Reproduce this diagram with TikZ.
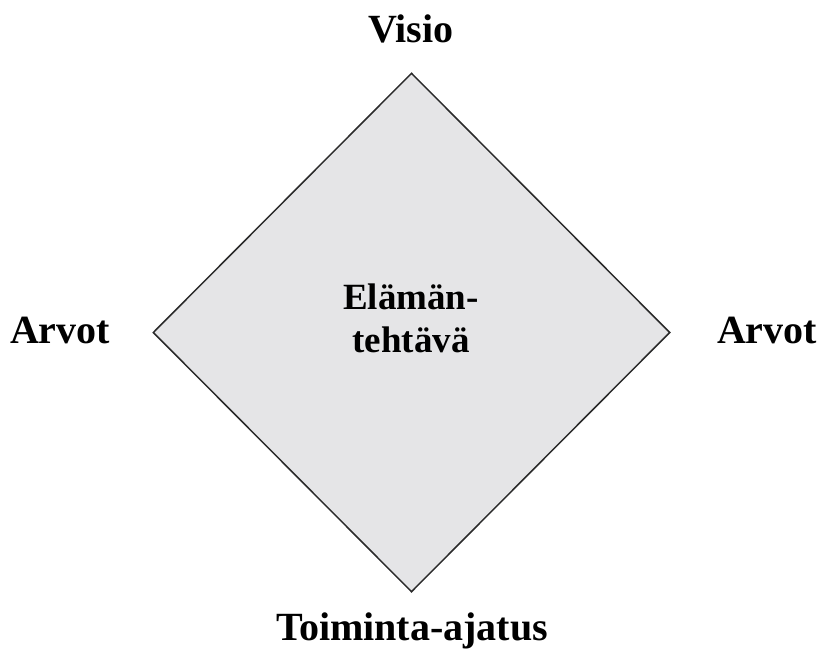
\documentclass[tikz,border=0pt]{standalone}
\usepackage{fontspec}
\setmainfont{Liberation Serif}
\usepackage{tikz}
\usetikzlibrary{shapes.geometric}
\usepackage{xcolor}
\definecolor{g1}{HTML}{E5E5E7}
\definecolor{k1}{HTML}{2A2A2A}
\tikzstyle{label}=[font=\fontsize{40}{43}\selectfont\bfseries,inner sep=0,anchor=base]
\tikzstyle{inner label}=[label,font=\fontsize{37}{43}\selectfont\bfseries]
\tikzstyle{kulmio}=[diamond,draw=k1,fill=g1,line width=1.5pt,inner sep=0,
  minimum width=517pt,minimum height=519pt]

\begin{document}
\begin{tikzpicture}[x=1pt,y=-1pt]
  \useasboundingbox (0,0) rectangle (819,653);
  \node[kulmio] (tehtava) at (411.5,332.5) {};
  \node[inner label] (elaman) at (411,309) {Elämän-};
  \node[inner label] (tehtava2) at (411,352) {tehtävä};
  \node[label] (visio) at (411,42) {Visio};
  \node[label] (arvotV) at (60,343) {Arvot};
  \node[label] (arvotO) at (767,343) {Arvot};
  \node[label] (toiminta) at (412,640) {Toiminta-ajatus};
\end{tikzpicture}
\end{document}
